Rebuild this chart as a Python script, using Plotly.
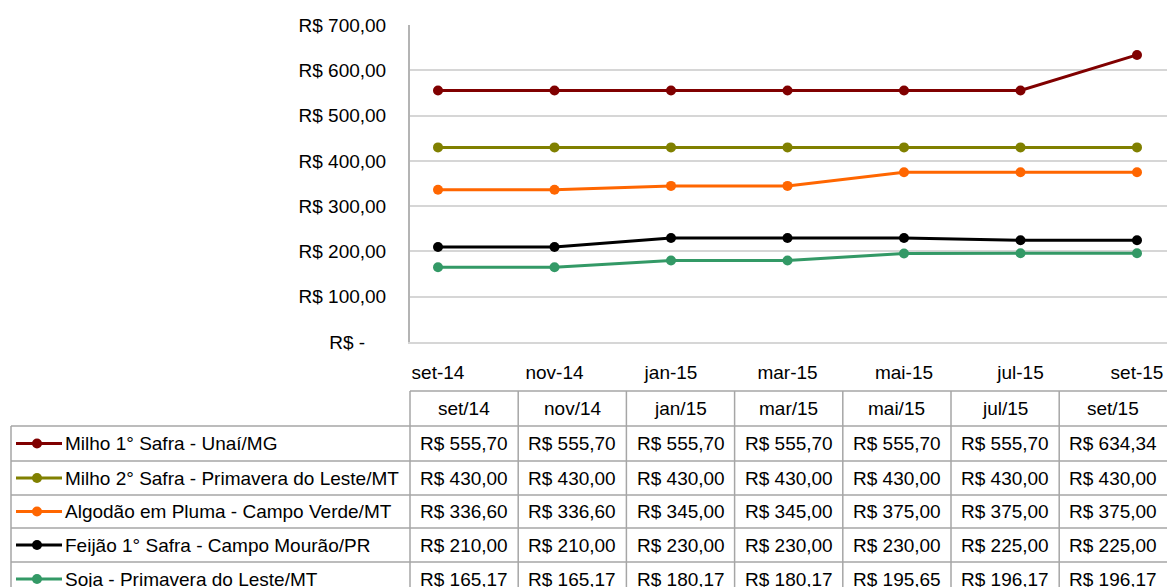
import plotly.graph_objects as go

# Months shown on the chart axis and in the table header
months_axis = ["set-14", "nov-14", "jan-15", "mar-15", "mai-15", "jul-15", "set-15"]
months_table = ["set/14", "nov/14", "jan/15", "mar/15", "mai/15", "jul/15", "set/15"]

# Price series (R$)
milho1 = [555.70, 555.70, 555.70, 555.70, 555.70, 555.70, 634.34]
milho2 = [430.00, 430.00, 430.00, 430.00, 430.00, 430.00, 430.00]
algodao = [336.60, 336.60, 345.00, 345.00, 375.00, 375.00, 375.00]
feijao = [210.00, 210.00, 230.00, 230.00, 230.00, 225.00, 225.00]
soja = [165.17, 165.17, 180.17, 180.17, 195.65, 196.17, 196.17]

series_names = [
    "Milho 1° Safra - Unaí/MG",
    "Milho 2° Safra - Primavera do Leste/MT",
    "Algodão em Pluma - Campo Verde/MT",
    "Feijão 1° Safra - Campo Mourão/PR",
    "Soja - Primavera do Leste/MT",
]
series_values = [milho1, milho2, algodao, feijao, soja]
series_colors = ["#800000", "#808000", "#FF6600", "#000000", "#339966"]

# Y axis ticks
y_ticks = [0, 100, 200, 300, 400, 500, 600, 700]
y_ticktext = ["R$ -\u00a0\u00a0\u00a0\u00a0", "R$ 100,00", "R$ 200,00", "R$ 300,00",
              "R$ 400,00", "R$ 500,00", "R$ 600,00", "R$ 700,00"]

W, H = 1167, 587
TOP, BOTTOM = 25, 342          # plot area in pixels
PLOT_LEFT = 410
FONT = "Liberation Sans, Arial, sans-serif"


def px(x):
    return x / W


def py(y):
    return (BOTTOM - y) / (BOTTOM - TOP)


def brl(v):
    return "R$ " + f"{v:.2f}".replace(".", ",")


fig = go.Figure()
for name, vals, col in zip(series_names, series_values, series_colors):
    fig.add_trace(go.Scatter(
        x=months_axis, y=vals, name=name, mode="lines+markers",
        line=dict(color=col, width=3),
        marker=dict(color=col, size=10),
        showlegend=False,
    ))

shapes = []
annotations = []
grid_col = "#A6A6A6"

# Data table geometry
col_edges = [PLOT_LEFT + k * 108.2 for k in range(8)]
row_edges = [391, 426, 461, 495, 528, 562, 596]
TABLE_LEFT = 11
TABLE_RIGHT = 1180

# Horizontal rules
shapes.append(dict(type="line", xref="paper", yref="paper",
                   x0=px(PLOT_LEFT), x1=px(TABLE_RIGHT), y0=py(row_edges[0]), y1=py(row_edges[0]),
                   line=dict(color=grid_col, width=1.5)))
for r in row_edges[1:6]:
    shapes.append(dict(type="line", xref="paper", yref="paper",
                       x0=px(TABLE_LEFT), x1=px(TABLE_RIGHT), y0=py(r), y1=py(r),
                       line=dict(color=grid_col, width=1.5)))
# Vertical rules
shapes.append(dict(type="line", xref="paper", yref="paper",
                   x0=px(TABLE_LEFT), x1=px(TABLE_LEFT), y0=py(row_edges[1]), y1=py(600),
                   line=dict(color=grid_col, width=1.5)))
for c in col_edges[:7]:
    shapes.append(dict(type="line", xref="paper", yref="paper",
                       x0=px(c), x1=px(c), y0=py(row_edges[0]), y1=py(600),
                       line=dict(color=grid_col, width=1.5)))

txt_font = dict(family=FONT, size=19, color="#000000")

# Header row
for j, m in enumerate(months_table):
    cx = (col_edges[j] + col_edges[j + 1]) / 2
    cy = (row_edges[0] + row_edges[1]) / 2
    annotations.append(dict(xref="paper", yref="paper", x=px(cx), y=py(cy),
                            text=m, showarrow=False, xanchor="center", yanchor="middle",
                            font=txt_font))

# Series rows: legend key + values
for i, (name, vals, col) in enumerate(zip(series_names, series_values, series_colors)):
    cy = (row_edges[i + 1] + row_edges[i + 2]) / 2
    shapes.append(dict(type="line", xref="paper", yref="paper",
                       x0=px(16), x1=px(62), y0=py(cy), y1=py(cy),
                       line=dict(color=col, width=3)))
    shapes.append(dict(type="circle", xref="paper", yref="paper",
                       x0=px(32), x1=px(42), y0=py(cy - 5), y1=py(cy + 5),
                       fillcolor=col, line=dict(color=col, width=0)))
    annotations.append(dict(xref="paper", yref="paper", x=px(63), y=py(cy),
                            text=name, showarrow=False, xanchor="left", yanchor="middle",
                            font=txt_font))
    for j, v in enumerate(vals):
        cx = (col_edges[j] + col_edges[j + 1]) / 2
        annotations.append(dict(xref="paper", yref="paper", x=px(cx), y=py(cy),
                                text=brl(v), showarrow=False, xanchor="center",
                                yanchor="middle", font=txt_font))

fig.update_layout(
    width=W, height=H,
    margin=dict(l=0, r=0, t=TOP, b=H - BOTTOM, pad=0),
    paper_bgcolor="white", plot_bgcolor="white",
    font=dict(family=FONT, size=19, color="#000000"),
    shapes=shapes, annotations=annotations,
    xaxis=dict(
        domain=[PLOT_LEFT / W, 1],
        type="category",
        range=[-0.2403, 6.2575],
        showgrid=False, zeroline=False,
        showline=True, linecolor="#D6D6D6", linewidth=2,
        ticks="", ticklabelstandoff=12,
        tickfont=dict(family=FONT, size=19, color="#000000"),
    ),
    yaxis=dict(
        range=[0, 700.5],
        tickvals=y_ticks, ticktext=y_ticktext,
        showgrid=True, gridcolor="#D6D6D6", gridwidth=1.5,
        zeroline=False,
        showline=True, linecolor="#B4B4B4", linewidth=2,
        ticks="", ticklabelstandoff=18,
        tickfont=dict(family=FONT, size=19, color="#000000"),
    ),
)

fig.write_html("out.html")
